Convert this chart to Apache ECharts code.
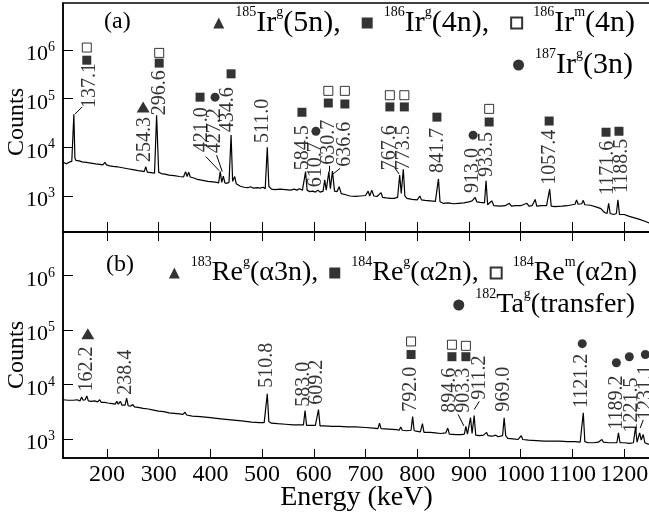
<!DOCTYPE html>
<html>
<head>
<meta charset="utf-8">
<title>Gamma spectra</title>
<script src="https://cdn.jsdelivr.net/npm/echarts@6/dist/echarts.min.js"></script>
<style>
  html, body { margin: 0; padding: 0; background: #fff; }
  #chart { width: 649px; height: 513px; }
</style>
</head>
<body>
<div id="chart"></div>
<script>
// y values are log10(counts)
var spectrumA = [[115,3.70],[118,3.69],[121,3.66],[124,3.70],[128,3.70],[132,3.71],[134,3.72],[136,4.68],[138,3.78],[140,3.73],[146,3.72],[152,3.70],[160,3.69],[166,3.68],[172,3.67],[178,3.66],[186,3.65],[192,3.64],[196,3.69],[199,3.64],[202,3.68],[205,3.62],[212,3.61],[220,3.60],[230,3.58],[240,3.56],[250,3.54],[260,3.52],[268,3.51],[272,3.50],[275,3.60],[278,3.49],[285,3.48],[292,3.47],[296,4.66],[300,3.49],[305,3.46],[312,3.45],[320,3.43],[330,3.42],[340,3.40],[348,3.39],[352,3.50],[355,3.40],[358,3.49],[361,3.39],[368,3.37],[375,3.34],[385,3.32],[395,3.30],[405,3.29],[412,3.28],[416,3.27],[419,3.50],[422,3.28],[425,3.41],[428,3.27],[432,3.26],[436,3.28],[440,4.25],[443,3.30],[447,3.40],[450,3.25],[458,3.20],[465,3.18],[472,3.17],[478,3.19],[483,3.16],[490,3.17],[496,3.16],[502,3.18],[506,3.15],[508,3.18],[510,4.00],[513,3.20],[518,3.14],[525,3.13],[535,3.14],[545,3.13],[555,3.12],[562,3.14],[567,3.12],[572,3.15],[578,3.12],[581,3.13],[584,3.50],[587,3.12],[592,3.09],[598,3.10],[603,3.08],[608,3.12],[612,3.08],[618,3.10],[621,3.33],[624,3.12],[626,3.14],[629,3.50],[632,3.15],[634,3.16],[636,3.51],[640,3.10],[645,3.09],[649,3.19],[653,3.05],[660,3.03],[670,3.00],[680,2.99],[690,3.00],[700,3.01],[705,3.10],[708,3.00],[712,3.12],[716,3.00],[722,2.99],[730,3.07],[733,2.97],[740,2.96],[748,2.95],[755,2.95],[762,2.97],[766,3.43],[769,3.05],[773,3.55],[776,3.00],[780,2.95],[790,2.93],[800,2.92],[805,3.00],[808,2.92],[815,2.91],[825,2.90],[835,2.89],[838,2.90],[841,3.35],[844,2.88],[850,2.85],[860,2.86],[870,2.84],[880,2.85],[890,2.86],[900,2.88],[906,2.90],[909,2.88],[912,2.97],[915,2.88],[922,2.87],[930,2.86],[933,3.31],[936,2.82],[940,2.86],[944,2.90],[948,2.80],[960,2.79],[970,2.80],[978,2.85],[982,2.79],[990,2.80],[1000,2.80],[1012,2.85],[1016,2.79],[1022,2.80],[1028,2.93],[1031,2.79],[1040,2.80],[1050,2.80],[1053,2.81],[1056,3.14],[1059,2.79],[1066,2.78],[1080,2.79],[1090,2.80],[1100,2.82],[1105,2.83],[1108,2.92],[1111,2.83],[1118,2.84],[1121,2.91],[1124,2.82],[1135,2.81],[1147,2.77],[1155,2.74],[1162,2.66],[1167,2.64],[1170,2.85],[1173,2.64],[1180,2.62],[1185,2.64],[1188,2.92],[1191,2.62],[1200,2.62],[1210,2.58],[1220,2.55],[1230,2.52],[1240,2.48],[1250,2.44]];

var spectrumB = [[115,3.72],[125,3.71],[135,3.71],[142,3.72],[148,3.70],[151,3.77],[154,3.71],[158,3.72],[161,3.79],[164,3.70],[170,3.69],[176,3.70],[182,3.68],[186,3.72],[189,3.67],[195,3.67],[202,3.66],[210,3.65],[216,3.64],[219,3.69],[222,3.64],[226,3.69],[229,3.62],[235,3.62],[238,3.75],[241,3.61],[245,3.60],[250,3.63],[253,3.59],[260,3.58],[270,3.56],[280,3.55],[290,3.53],[300,3.51],[310,3.50],[320,3.48],[330,3.47],[340,3.46],[347,3.45],[351,3.49],[354,3.44],[365,3.42],[380,3.41],[400,3.39],[420,3.37],[440,3.35],[460,3.33],[480,3.31],[495,3.30],[504,3.30],[507,3.32],[510,3.83],[513,3.32],[518,3.29],[530,3.28],[545,3.27],[560,3.26],[575,3.26],[580,3.26],[583,3.52],[586,3.25],[595,3.25],[603,3.25],[606,3.26],[609,3.54],[612,3.24],[620,3.24],[635,3.23],[650,3.23],[665,3.22],[680,3.22],[700,3.21],[715,3.20],[724,3.19],[727,3.29],[730,3.19],[745,3.18],[760,3.17],[765,3.16],[768,3.22],[771,3.16],[780,3.15],[788,3.16],[791,3.41],[794,3.15],[800,3.14],[806,3.13],[810,3.28],[813,3.12],[825,3.12],[835,3.11],[845,3.10],[855,3.11],[859,3.20],[862,3.09],[875,3.08],[885,3.08],[891,3.09],[894,3.23],[897,3.09],[900,3.08],[903,3.39],[906,3.10],[910,3.43],[913,3.07],[920,3.06],[928,3.07],[934,3.12],[937,3.06],[945,3.05],[952,3.07],[956,3.04],[965,3.06],[968,3.39],[971,3.06],[975,3.01],[985,3.00],[995,2.99],[1001,3.06],[1004,2.99],[1015,2.98],[1030,2.97],[1045,2.96],[1060,2.96],[1075,2.96],[1090,2.95],[1105,2.95],[1115,2.94],[1118,2.96],[1121,3.48],[1124,2.95],[1130,2.93],[1140,2.93],[1150,2.94],[1157,2.99],[1160,2.94],[1170,2.93],[1180,2.93],[1186,2.93],[1189,3.11],[1192,2.93],[1200,2.93],[1210,2.92],[1218,2.93],[1222,3.22],[1225,2.94],[1228,2.96],[1230,3.11],[1233,2.98],[1237,3.08],[1240,2.93],[1245,2.91],[1250,2.90]];

// peak labels: [text, energy, log10 counts where the text starts]
var peakLabelsA = [['137.1',167,4.81],['254.3',273,3.70],['296.6',302,4.66],['421.0',384,3.90],['427.2',409,3.88],['434.6',434,4.31],['511.0',502,4.09],['584.5',579,3.53],['610.7',604,3.18],['630.7',629,3.64],['636.6',660,3.60],['767.6',746,3.53],['773.5',773,3.53],['841.7',840,3.47],['913.0',908,3.06],['933.5',935,3.39],['1057.4',1057,3.23],['1171.6',1169,3.02],['1188.5',1196,3.06]];
var peakLabelsB = [['162.2',161,3.87],['238.4',237,3.81],['510.8',508,3.94],['583.0',581,3.59],['609.2',606,3.63],['792.0',788,3.50],['894.6',863,3.48],['903.3',889,3.48],['911.2',920,3.72],['969.0',968,3.50],['1121.2',1119,3.57],['1189.2',1185,3.17],['1221.5',1214,3.12],['1231.1',1241,3.35]];

// nuclide markers above the peaks
var triA = [[270,4.83]];
var sqA = [[161,5.79],[301,5.73],[380,5.03],[440,5.51],[577,4.72],[628,4.91],[660,4.89],[747,4.83],[775,4.83],[838,4.62],[939,4.52],[1055,4.54],[1165,4.31],[1190,4.33]];
var openA = [[161,6.05],[301,5.94],[628,5.16],[660,5.16],[747,5.07],[775,5.07],[939,4.79]];
var dotA = [[409,5.03],[604,4.33],[908,4.25]];
var triB = [[163,4.93]];
var sqB = [[788,4.55],[867,4.51],[894,4.51]];
var openB = [[788,4.79],[867,4.73],[894,4.71]];
var dotB = [[1119,4.75],[1185,4.40],[1210,4.51],[1241,4.55]];

// leader lines from label to peak
var leadersA = [[[138,4.68],[152,4.83]],[[391,3.81],[417,3.52]],[[412,3.84],[423,3.50]],[[629,3.62],[629,3.50]],[[651,3.57],[637,3.45]],[[757,3.57],[765,3.45]]];
var leadersB = [[[879,3.45],[890,3.24]],[[920,3.69],[910,3.54]],[[1237,3.35],[1231,3.20]]];

var energyTicks = [200,300,400,500,600,700,800,900,1000,1100,1200];
var decadeTicks = [3,4,5,6];

var FONT = '"Liberation Serif", "Times New Roman", serif';
var chart = echarts.init(document.getElementById('chart'));

function richLegend(size) {
  return {
    p: { width: 6 },
    s: { fontFamily: FONT, fontSize: 14, color: '#000', verticalAlign: 'top' },
    m: { fontFamily: FONT, fontSize: size, lineHeight: 36, color: '#000' }
  };
}
var legendText = {
  'Ir185g': '{p|}{s|185}{m|Ir}{s|g}{m|(5n),}',
  'Ir186g': '{p|}{s|186}{m|Ir}{s|g}{m|(4n),}',
  'Ir186m': '{p|}{s|186}{m|Ir}{s|m}{m|(4n)}',
  'Ir187g': '{p|}{s|187}{m|Ir}{s|g}{m|(3n)}',
  'Re183g': '{p|}{s|183}{m|Re}{s|g}{m|(α3n),}',
  'Re184g': '{p|}{s|184}{m|Re}{s|g}{m|(α2n),}',
  'Re184m': '{p|}{s|184}{m|Re}{s|m}{m|(α2n)}',
  'Ta182g': '{p|}{s|182}{m|Ta}{s|g}{m|(transfer)}'
};

function legendRow(names, top, right, size, gap) {
  return {
    data: names, top: top, right: right, padding: 0,
    itemWidth: 11, itemHeight: 11, itemGap: gap,
    selectedMode: false,
    formatter: function (n) { return legendText[n]; },
    textStyle: { fontFamily: FONT, fontSize: size, color: '#000', rich: richLegend(size) }
  };
}

function markers(name, symbol, size, data, gi, open) {
  return {
    type: 'scatter', name: name, xAxisIndex: gi, yAxisIndex: gi,
    symbol: symbol, symbolSize: size, data: data, silent: true,
    itemStyle: open ? { color: '#fff', borderColor: '#000', borderWidth: 1 } : { color: '#000' },
    z: 4
  };
}

function peakLabels(list, gi) {
  return {
    type: 'scatter', xAxisIndex: gi, yAxisIndex: gi, symbolSize: 1, silent: true,
    itemStyle: { color: 'rgba(0,0,0,0)' },
    data: list.map(function (d) { return { name: d[0], value: [d[1], d[2]] }; }),
    label: {
      show: true, position: 'inside', formatter: '{b}', rotate: 90,
      align: 'left', verticalAlign: 'middle',
      fontFamily: FONT, fontSize: 20, color: '#000'
    },
    z: 5
  };
}

function leaders(list, gi) {
  return {
    type: 'lines', coordinateSystem: 'cartesian2d', xAxisIndex: gi, yAxisIndex: gi,
    silent: true, lineStyle: { color: '#000', width: 1, opacity: 1 },
    data: list.map(function (c) { return { coords: c }; })
  };
}

function xAxis(gi, pos, showLabels, tickLen) {
  return {
    type: 'value', gridIndex: gi, position: pos, min: 115, max: 1250,
    axisLine: { show: true, onZero: false, lineStyle: { color: '#000', width: 1.5 } },
    axisTick: { show: true, inside: true, length: tickLen, customValues: energyTicks, lineStyle: { color: '#000', width: 1 } },
    axisLabel: {
      show: showLabels, customValues: energyTicks, margin: 5,
      formatter: function (v) { return String(v); },
      fontFamily: FONT, fontSize: 24, color: '#000'
    },
    splitLine: { show: false }
  };
}

function yAxis(gi, min, max, namePad) {
  return {
    type: 'value', gridIndex: gi, min: min, max: max,
    name: 'Counts', nameLocation: 'middle', nameGap: 34, nameMoveOverlap: false,
    nameTextStyle: { fontFamily: FONT, fontSize: 24, color: '#000', padding: namePad },
    axisLine: { show: true, onZero: false, lineStyle: { color: '#000', width: 1.5 } },
    axisTick: { show: true, inside: true, length: 10, customValues: decadeTicks, lineStyle: { color: '#000', width: 1 } },
    axisLabel: {
      customValues: decadeTicks, margin: 8, padding: [9, 0, 0, 0],
      formatter: function (v) { return '{b|10}{s|' + v + '}'; },
      rich: {
        b: { fontFamily: FONT, fontSize: 22, lineHeight: 28, color: '#000' },
        s: { fontFamily: FONT, fontSize: 14, color: '#000', verticalAlign: 'top' }
      }
    },
    splitLine: { show: false }
  };
}

var gridStyle = { show: true, borderColor: '#000', borderWidth: 1.5, backgroundColor: 'rgba(0,0,0,0)', outerBoundsMode: 'none' };

chart.setOption({
  animation: false,
  backgroundColor: '#fff',
  title: [
    { text: '(a)', left: 104, top: 10, padding: 0, textStyle: { fontFamily: FONT, fontSize: 24, fontWeight: 'normal', color: '#000' } },
    { text: '(b)', left: 106, top: 253, padding: 0, textStyle: { fontFamily: FONT, fontSize: 24, fontWeight: 'normal', color: '#000' } }
  ],
  legend: [
    legendRow(['Ir185g', 'Ir186g', 'Ir186m'], 5, 14, 30, 21),
    legendRow(['Ir187g'], 47, 16, 30, 15),
    legendRow(['Re183g', 'Re184g', 'Re184m'], 255, 12, 28, 11),
    legendRow(['Ta182g'], 287, 14, 28, 15)
  ],
  grid: [
    Object.assign({ left: 63, right: -1, top: 3, height: 229 }, gridStyle),
    Object.assign({ left: 63, right: -1, top: 232, height: 226 }, gridStyle)
  ],
  xAxis: [
    xAxis(0, 'bottom', false, 10),
    Object.assign(xAxis(1, 'bottom', true, 9), {
      name: 'Energy (keV)', nameLocation: 'middle', nameGap: 26, nameMoveOverlap: false,
      nameTextStyle: { fontFamily: FONT, fontSize: 28, color: '#000' }
    }),
    xAxis(1, 'top', false, 9)
  ],
  yAxis: [
    yAxis(0, 2.26, 6.965, [0, 9, 0, 0]),
    yAxis(1, 2.65, 6.80, [0, 20, 0, 0])
  ],
  series: [
    { type: 'line', xAxisIndex: 0, yAxisIndex: 0, data: spectrumA, showSymbol: false, silent: true,
      lineStyle: { color: '#000', width: 1.2 } },
    { type: 'line', xAxisIndex: 1, yAxisIndex: 1, data: spectrumB, showSymbol: false, silent: true,
      lineStyle: { color: '#000', width: 1.2 } },
    markers('Ir185g', 'triangle', [13, 11], triA, 0),
    markers('Ir186g', 'rect', 9, sqA, 0),
    markers('Ir186m', 'rect', 9, openA, 0, true),
    markers('Ir187g', 'circle', 9, dotA, 0),
    markers('Re183g', 'triangle', [13, 11], triB, 1),
    markers('Re184g', 'rect', 9, sqB, 1),
    markers('Re184m', 'rect', 9, openB, 1, true),
    markers('Ta182g', 'circle', 9, dotB, 1),
    peakLabels(peakLabelsA, 0),
    peakLabels(peakLabelsB, 1),
    leaders(leadersA, 0),
    leaders(leadersB, 1)
  ]
});
</script>
</body>
</html>
